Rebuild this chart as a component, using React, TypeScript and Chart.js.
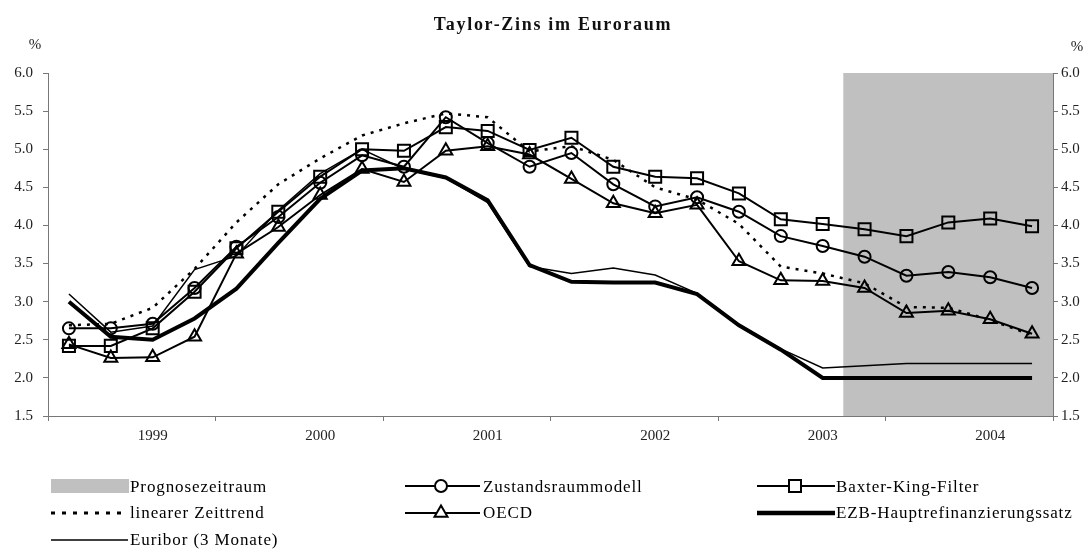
import React, { useEffect, useRef } from 'react';
import { Chart, registerables } from 'chart.js';

Chart.register(...registerables);

// Quarterly categories 1999 Q1 – 2004 Q4
const quarters = [
  '1999 Q1', '1999 Q2', '1999 Q3', '1999 Q4',
  '2000 Q1', '2000 Q2', '2000 Q3', '2000 Q4',
  '2001 Q1', '2001 Q2', '2001 Q3', '2001 Q4',
  '2002 Q1', '2002 Q2', '2002 Q3', '2002 Q4',
  '2003 Q1', '2003 Q2', '2003 Q3', '2003 Q4',
  '2004 Q1', '2004 Q2', '2004 Q3', '2004 Q4',
];

const yearTickLabels = ['1999', '2000', '2001', '2002', '2003', '2004'];
const yTickMin = 1.5;
const yTickMax = 6.0;
const yTickStep = 0.5;

// Forecast period (shaded band), floating bars from axis bottom to top
const prognosezeitraum: ([number, number] | null)[] = [
  null, null, null, null,
  null, null, null, null,
  null, null, null, null,
  null, null, null, null,
  null, null, null, [1.5, 6.0],
  [1.5, 6.0], [1.5, 6.0], [1.5, 6.0], [1.5, 6.0],
];

const zustandsraummodell = [
  2.65, 2.65, 2.71, 3.18,
  3.72, 4.11, 4.56, 4.92,
  4.77, 5.42, 5.08, 4.77,
  4.95, 4.54, 4.25, 4.37,
  4.18, 3.86, 3.73, 3.59,
  3.34, 3.39, 3.32, 3.18,
];

const baxterKingFilter = [
  2.42, 2.42, 2.65, 3.13,
  3.70, 4.18, 4.64, 5.00,
  4.98, 5.29, 5.24, 4.99,
  5.15, 4.77, 4.64, 4.62,
  4.42, 4.08, 4.02, 3.95,
  3.86, 4.04, 4.09, 3.99,
];

const linearerZeittrend = [
  2.69, 2.71, 2.92, 3.43,
  4.04, 4.54, 4.88, 5.18,
  5.34, 5.47, 5.42, 4.97,
  5.04, 4.86, 4.50, 4.34,
  4.02, 3.46, 3.37, 3.24,
  2.93, 2.92, 2.76, 2.56,
];

const oecd = [
  2.44, 2.26, 2.27, 2.54,
  3.63, 3.98, 4.40, 4.74,
  4.57, 4.98, 5.04, 4.93,
  4.61, 4.29, 4.16, 4.27,
  3.53, 3.28, 3.27, 3.18,
  2.85, 2.88, 2.77, 2.58,
];

const ezbHauptrefinanzierungssatz = [
  3.00, 2.54, 2.50, 2.78,
  3.17, 3.77, 4.35, 4.72,
  4.75, 4.63, 4.33, 3.48,
  3.26, 3.25, 3.25, 3.10,
  2.69, 2.37, 2.00, 2.00,
  2.00, 2.00, 2.00, 2.00,
];

const euribor3Monate = [
  3.10, 2.60, 2.68, 3.42,
  3.60, 4.20, 4.68, 5.00,
  4.74, 4.62, 4.30, 3.46,
  3.37, 3.44, 3.35, 3.11,
  2.70, 2.38, 2.13, 2.16,
  2.19, 2.19, 2.19, 2.19,
];

const SERIF = '"Liberation Serif", "Times New Roman", serif';

export default function App() {
  const canvasRef = useRef<HTMLCanvasElement | null>(null);

  useEffect(() => {
    const canvas = canvasRef.current;
    if (!canvas) return;
    const axisColor = '#777777';
    const tickFont = { family: SERIF, size: 15 };
    const black = '#000000';
    const noFill = 'rgba(0,0,0,0)';

    const yAxisBase = (position: 'left' | 'right', width: number, padding: number) => ({
      type: 'linear' as const,
      position,
      min: yTickMin,
      max: yTickMax,
      ticks: {
        stepSize: yTickStep,
        padding,
        font: tickFont,
        color: '#222222',
        callback: (v: any) => Number(v).toFixed(1),
      },
      grid: {
        drawOnChartArea: false,
        drawTicks: true,
        tickLength: 5,
        color: axisColor,
        lineWidth: 1,
      },
      border: { display: true, color: axisColor, width: 1 },
      afterFit: (s: any) => {
        s.width = width;
      },
    });

    const chart = new Chart(canvas, {
      type: 'line',
      data: {
        labels: quarters,
        datasets: [
          {
            type: 'bar',
            label: 'Prognosezeitraum',
            data: prognosezeitraum as any,
            backgroundColor: '#c0c0c0',
            borderWidth: 0,
            barPercentage: 1,
            categoryPercentage: 1,
            order: 10,
            yAxisID: 'y',
          } as any,
          {
            label: 'Euribor (3 Monate)',
            data: euribor3Monate,
            borderColor: black,
            borderWidth: 1.5,
            pointRadius: 0,
            tension: 0,
            order: 6,
          },
          {
            label: 'EZB-Hauptrefinanzierungssatz',
            data: ezbHauptrefinanzierungssatz,
            borderColor: black,
            borderWidth: 4,
            pointRadius: 0,
            tension: 0,
            order: 5,
          },
          {
            label: 'linearer Zeittrend',
            data: linearerZeittrend,
            borderColor: black,
            borderWidth: 2.5,
            borderDash: [3, 6],
            borderCapStyle: 'butt',
            pointRadius: 0,
            tension: 0,
            order: 4,
          },
          {
            label: 'OECD',
            data: oecd,
            borderColor: black,
            borderWidth: 2,
            pointStyle: 'triangle',
            pointRadius: 7.5,
            pointBorderWidth: 2,
            pointBorderColor: black,
            pointBackgroundColor: noFill,
            tension: 0,
            order: 3,
          },
          {
            label: 'Baxter-King-Filter',
            data: baxterKingFilter,
            borderColor: black,
            borderWidth: 2,
            pointStyle: 'rect',
            pointRadius: 8.5,
            pointBorderWidth: 2,
            pointBorderColor: black,
            pointBackgroundColor: noFill,
            tension: 0,
            order: 2,
          },
          {
            label: 'Zustandsraummodell',
            data: zustandsraummodell,
            borderColor: black,
            borderWidth: 2,
            pointStyle: 'circle',
            pointRadius: 6,
            pointBorderWidth: 2,
            pointBorderColor: black,
            pointBackgroundColor: noFill,
            tension: 0,
            order: 1,
          },
        ],
      },
      options: {
        responsive: false,
        animation: false,
        events: [],
        layout: { padding: { top: 73, left: 0, right: 0, bottom: 0 } },
        plugins: {
          legend: { display: false },
          tooltip: { enabled: false },
          title: { display: false },
        },
        scales: {
          x: {
            type: 'category',
            offset: true,
            grid: {
              offset: true,
              drawOnChartArea: false,
              drawTicks: true,
              tickLength: 5,
              color: axisColor,
              lineWidth: 1,
              tickColor: (ctx: any) =>
                ctx.index === undefined || ctx.index % 4 === 0 ? axisColor : 'rgba(0,0,0,0)',
            },
            border: { display: true, color: axisColor, width: 1 },
            ticks: {
              autoSkip: false,
              maxRotation: 0,
              minRotation: 0,
              padding: 6,
              font: tickFont,
              color: '#222222',
              callback: (_v: any, i: number) => (i % 4 === 2 ? yearTickLabels[Math.floor(i / 4)] : ''),
            },
            afterFit: (s: any) => {
              s.height = 133;
            },
          },
          y: yAxisBase('left', 48, 10),
          y2: yAxisBase('right', 30, 3),
        } as any,
      },
    });
    return () => chart.destroy();
  }, []);

  const textStyle = { fontFamily: SERIF, fontSize: 17, letterSpacing: 0.9 } as React.CSSProperties;
  const r1 = 486;
  const r2 = 513;
  const r3 = 540;

  return (
    <div
      style={{
        position: 'absolute',
        left: 0,
        top: 0,
        width: 1083,
        height: 549,
        background: '#ffffff',
        overflow: 'hidden',
      }}
    >
      <canvas ref={canvasRef} width={1083} height={549} style={{ position: 'absolute', left: 0, top: 0 }} />
      <svg
        width={1083}
        height={549}
        style={{ position: 'absolute', left: 0, top: 0, pointerEvents: 'none' }}
      >
        <text
          x={553}
          y={30}
          textAnchor="middle"
          style={{ fontFamily: SERIF, fontSize: 18, fontWeight: 'bold', letterSpacing: 1.7 }}
          fill="#111"
        >
          Taylor-Zins im Euroraum
        </text>
        <text x={35} y={49} textAnchor="middle" style={{ fontFamily: SERIF, fontSize: 15 }} fill="#222">
          %
        </text>
        <text x={1077} y={51} textAnchor="middle" style={{ fontFamily: SERIF, fontSize: 15 }} fill="#222">
          %
        </text>

        {/* Legend column 1 */}
        <rect x={51} y={r1 - 7} width={78} height={14} fill="#c0c0c0" />
        <text x={130} y={r1 + 6} style={textStyle}>Prognosezeitraum</text>
        <line x1={51} y1={r2} x2={127} y2={r2} stroke="#000" strokeWidth={3} strokeDasharray="4 7" />
        <text x={130} y={r2 + 5} style={textStyle}>linearer Zeittrend</text>
        <line x1={51} y1={r3} x2={128} y2={r3} stroke="#000" strokeWidth={1.5} />
        <text x={130} y={r3 + 5} style={textStyle}>Euribor (3 Monate)</text>

        {/* Legend column 2 */}
        <line x1={405} y1={r1} x2={480} y2={r1} stroke="#000" strokeWidth={2} />
        <circle cx={441} cy={r1} r={6} fill="#fff" stroke="#000" strokeWidth={2} />
        <text x={483} y={r1 + 6} style={textStyle}>Zustandsraummodell</text>
        <line x1={405} y1={r2} x2={480} y2={r2} stroke="#000" strokeWidth={2} />
        <polygon
          points={`441,${r2 - 7.5} ${441 + 6.5},${r2 + 3.75} ${441 - 6.5},${r2 + 3.75}`}
          fill="#fff"
          stroke="#000"
          strokeWidth={2}
        />
        <text x={483} y={r2 + 5} style={textStyle}>OECD</text>

        {/* Legend column 3 */}
        <line x1={757} y1={r1} x2={835} y2={r1} stroke="#000" strokeWidth={2} />
        <rect x={795 - 6} y={r1 - 6} width={12} height={12} fill="#fff" stroke="#000" strokeWidth={2} />
        <text x={836} y={r1 + 6} style={textStyle}>Baxter-King-Filter</text>
        <line x1={757} y1={r2} x2={835} y2={r2} stroke="#000" strokeWidth={4.5} />
        <text x={836} y={r2 + 5} style={textStyle}>EZB-Hauptrefinanzierungssatz</text>
      </svg>
    </div>
  );
}
